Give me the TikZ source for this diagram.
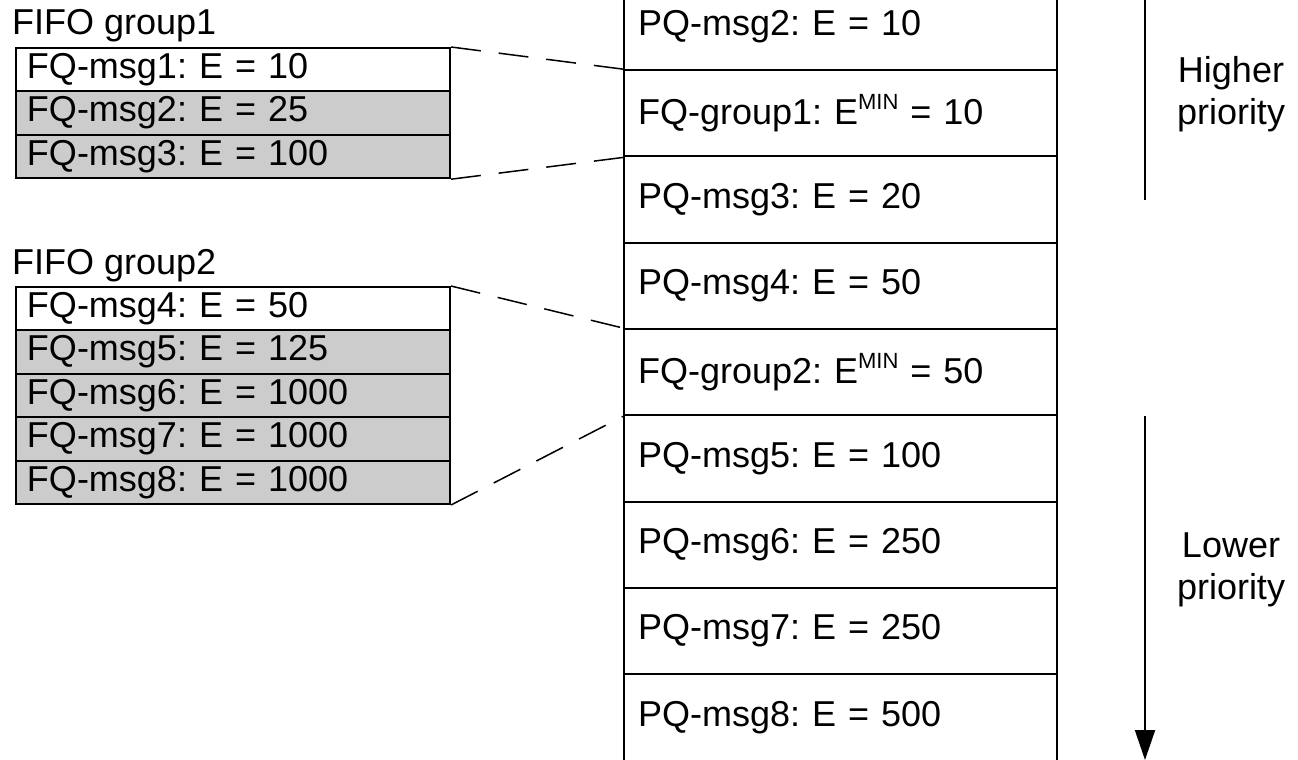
\documentclass[tikz,border=0pt]{standalone}
\usepackage{fontspec}
\setmainfont{Liberation Sans}
\usetikzlibrary{arrows.meta}
\definecolor{fqgray}{RGB}{204,204,204}
\frenchspacing
\begin{document}
\begin{tikzpicture}[x=1pt,y=-1pt,
  every node/.style={font=\fontsize{36}{42}\selectfont\frenchspacing},
  colrow/.style={draw,line width=2pt,minimum width=433pt,minimum height=86.3pt,
    text width=405pt,inner xsep=14pt,align=left},
  grprow/.style={draw,line width=2pt,minimum width=434pt,minimum height=43.4pt,
    text width=412pt,inner xsep=11pt,inner ysep=0pt,align=left},
  grayrow/.style={grprow,fill=fqgray},
  conn/.style={line width=1.5pt,dash pattern=on 30pt off 18pt},
  prio/.style={align=center,inner sep=0pt}]
\useasboundingbox (0,0) rectangle (1298,760);
\clip (0,0) rectangle (1298,760);
\newcommand{\supmin}{\raisebox{15pt}{\fontsize{22}{22}\selectfont MIN}}
% priority queue column
\node[colrow] (c0) at (840.5,27) {PQ-msg2: E = 10};
\node[colrow] (c1) at (840.5,113.3) {FQ-group1: E\supmin{} = 10};
\node[colrow] (c2) at (840.5,199.6) {PQ-msg3: E = 20};
\node[colrow] (c3) at (840.5,285.9) {PQ-msg4: E = 50};
\node[colrow] (c4) at (840.5,372.2) {FQ-group2: E\supmin{} = 50};
\node[colrow] (c5) at (840.5,458.5) {PQ-msg5: E = 100};
\node[colrow] (c6) at (840.5,544.8) {PQ-msg6: E = 250};
\node[colrow] (c7) at (840.5,631.1) {PQ-msg7: E = 250};
\node[colrow] (c8) at (840.5,717.4) {PQ-msg8: E = 500};
% FIFO group 1
\node[anchor=base west,inner sep=0pt] (l1) at (12,35) {FIFO group1};
\node[grprow] (a1) at (233,69.7) {FQ-msg1: E = 10};
\node[grayrow] (a2) at (233,113.1) {FQ-msg2: E = 25};
\node[grayrow] (a3) at (233,156.5) {FQ-msg3: E = 100};
% FIFO group 2
\node[anchor=base west,inner sep=0pt] (l2) at (12,274) {FIFO group2};
\node[grprow] (b1) at (233,308.7) {FQ-msg4: E = 50};
\node[grayrow] (b2) at (233,352.1) {FQ-msg5: E = 125};
\node[grayrow] (b3) at (233,395.5) {FQ-msg6: E = 1000};
\node[grayrow] (b4) at (233,438.9) {FQ-msg7: E = 1000};
\node[grayrow] (b5) at (233,482.3) {FQ-msg8: E = 1000};
% connectors
\draw[conn] (a1.north east) -- (c1.north west);
\draw[conn] (a3.south east) -- (c1.south west);
\draw[conn] (b1.north east) -- (c4.north west);
\draw[conn] (b5.south east) -- (c4.south west);
% priority arrows
\coordinate (h0) at (1145,-20);
\coordinate (h1) at (1145,200);
\coordinate (w0) at (1145,416);
\coordinate (w1) at (1145,760);
\draw[line width=2pt] (h0) -- (h1);
\draw[line width=2pt,-{Triangle[length=30pt,width=20pt]}] (w0) -- (w1);
\node[prio] (hp) at (1231,94) {Higher\\priority};
\node[prio] (lp) at (1231,570) {Lower\\priority};
\end{tikzpicture}
\end{document}
